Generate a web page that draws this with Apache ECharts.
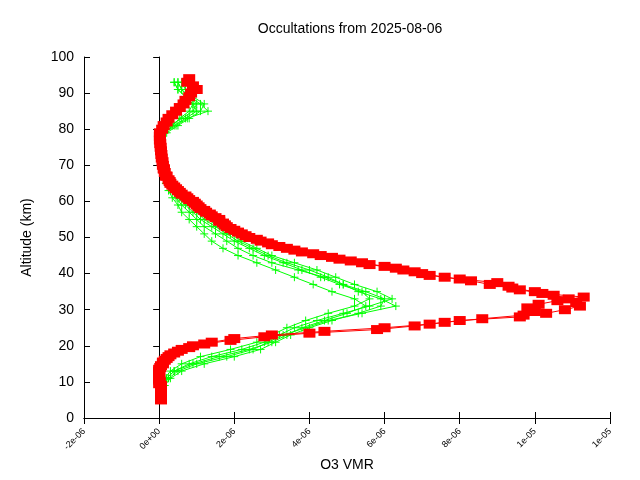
<!DOCTYPE html>
<html><head><meta charset="utf-8">
<script src="https://cdn.jsdelivr.net/npm/echarts@6/dist/echarts.min.js"></script>
<style>html,body{margin:0;background:#fff}#c{width:640px;height:480px}</style></head>
<body><div id="c"></div>
<script>
// values in units of 1e-6 VMR, altitude in km
const redAlt = [5,6,7,8,9,10,11,12,13,14,15,16,17,18,19,20,21,22,23,24,25,26,27,28,29,30,31,32,33,34,35,36,37,38,39,40,41,42,43,44,45,46,47,48,49,50,51,52,53,54,55,56,57,58,59,60,61,62,63,64,65,66,67,68,69,70,72,74,76,78,80,82,84,86,88,90,92,94];
const redVal = [0.05,0.05,0.05,0.05,0.05,0.02,0,0,0,0.03,0.1,0.15,0.25,0.4,0.6,0.9,1.4,2.0,3.0,4.4,6.0,7.2,8.0,9.6,10.3,10.8,11.2,11.1,10.9,10.5,10.0,9.4,8.8,8.3,7.6,7.0,6.5,6.0,5.4,4.8,4.3,3.8,3.4,3.0,2.7,2.4,2.2,2.0,1.8,1.7,1.6,1.4,1.25,1.1,1.0,0.9,0.75,0.6,0.5,0.4,0.3,0.25,0.2,0.15,0.12,0.1,0.07,0.05,0.03,0.02,0.08,0.2,0.35,0.55,0.7,0.85,0.9,0.8];
const red2Alt = [5.5,6.5,7.5,8.5,9.5,10.5,11.5,12.5,13.5,14.5,15.5,16.5,17.5,18.5,19.5,20.5,21.5,22.5,23.5,24.5,25.5,26.5,27.5,28.5,29.5,30.5,31.5,32.5,33.5,34.5,35.5,36.5,37.5,38.5,39.5,40.5,41.5,42.5,43.5,44.5,45.5,46.5,47.5,48.5,49.5,50.5,51.5,52.5,53.5,54.5,55.5,56.5,57.5,58.5,59.5,60.5,61.5,62.5,63.5,64.5,65.5,67,69,71,73,75,77,79,81,83,85,87,89,91,93];
const red2Val = [0.05,0.05,0.05,0.05,0.0,0.0,0.0,0.0,0.0,0.05,0.1,0.2,0.3,0.5,0.8,1.2,1.9,2.8,4.0,5.8,6.8,7.6,8.6,9.7,10.0,9.8,10.1,10.6,11.3,10.2,9.6,9.3,9.0,8.0,7.2,6.8,6.3,5.6,5.1,4.6,4.1,3.6,3.2,2.9,2.6,2.3,2.1,1.9,1.75,1.6,1.5,1.35,1.2,1.05,0.95,0.8,0.7,0.55,0.45,0.35,0.28,0.18,0.13,0.09,0.06,0.04,0.02,0.02,0.12,0.25,0.45,0.65,0.8,1.0,0.75];
const greenAlt = [7,9,11,13,15,17,19,21,23,25,27,29,31,33,35,37,39,41,43,45,47,49,51,53,55,57,59,61,63,65,67,69,71,73,75,77,79,81,83,85,87,89,91,93];
const green1 = [0.1,0.1,0.2,0.4,0.8,1.4,2.2,2.8,3.2,3.6,4.2,4.9,5.6,6.2,5.8,5.2,4.7,4.2,3.6,3.0,2.6,2.2,1.9,1.6,1.3,1.0,0.8,0.6,0.45,0.3,0.2,0.15,0.1,0.08,0.05,0.03,0.1,0.3,0.6,0.9,1.0,0.8,0.6,0.5];
const green2 = [0.05,0.1,0.15,0.3,0.6,1.1,1.9,2.6,3.0,3.4,3.9,4.5,5.2,5.6,5.4,4.8,4.3,3.8,3.3,2.8,2.4,2.0,1.7,1.4,1.1,0.9,0.7,0.5,0.35,0.25,0.15,0.1,0.08,0.05,0.03,0.02,0.1,0.4,0.7,1.0,0.9,0.7,0.5,0.4];
const green3 = [0.1,0.15,0.3,0.6,1.2,2.0,2.7,3.1,3.5,4.0,4.6,5.3,5.9,6.0,5.5,4.9,4.4,3.7,3.0,2.5,2.1,1.8,1.5,1.2,1.0,0.8,0.6,0.45,0.3,0.2,0.15,0.1,0.06,0.04,0.02,0.02,0.2,0.5,0.8,1.1,1.2,0.9,0.7,0.6];
const green4 = [0.1,0.1,0.2,0.4,0.9,1.6,2.4,3.0,3.4,3.8,4.4,5.0,5.5,5.2,4.6,4.1,3.6,3.1,2.6,2.1,1.7,1.4,1.2,1.0,0.8,0.6,0.5,0.35,0.25,0.18,0.12,0.08,0.05,0.03,0.02,0.01,0.15,0.35,0.55,0.8,0.9,0.7,0.5,0.4];
const green5 = [0.05,0.1,0.25,0.5,1.0,1.8,2.5,2.9,3.3,3.9,4.5,5.4,6.3,5.9,5.3,4.9,4.5,4.0,3.4,2.9,2.5,2.1,1.8,1.5,1.2,1.0,0.8,0.55,0.4,0.28,0.18,0.12,0.08,0.05,0.03,0.02,0.12,0.45,0.75,1.3,1.1,0.8,0.6,0.5];
const xTicks = ['-2e-06','0e+00','2e-06','4e-06','6e-06','8e-06','1e-05','1e-05'];

const pair = (v, a) => v.map((x, i) => [x, a[i]]);
const greens = [green1, green2, green3, green4, green5];
const series = greens.map(g => ({
  type:'line', data: pair(g, greenAlt), symbol:'path://M0,5H10M5,0V10', symbolSize:8,
  itemStyle:{color:'#00ff00',borderColor:'#00ff00',borderWidth:1}, lineStyle:{color:'#00ff00',width:1}, animation:false, z:2
}));
[[redVal, redAlt],[red2Val, red2Alt]].forEach(([v,a]) => series.push({type:'line', data: pair(v, a), symbol:'rect', symbolSize:[12,9],
  itemStyle:{color:'#ff0000'}, lineStyle:{color:'#ff0000',width:1}, animation:false, z:3}));

const lab = {fontFamily:'Liberation Sans', color:'#000'};
const tick = {inside:true, length:6, lineStyle:{color:'#000'}};
const chart = echarts.init(document.getElementById('c'));
chart.setOption({
  title:{text:'Occultations from 2025-08-06', left:345, top:17, textAlign:'center',
    textStyle:{fontFamily:'Liberation Sans',fontSize:14,fontWeight:'normal',color:'#000'}},
  grid:{left:84, right:30, top:57, bottom:62},
  xAxis:[{type:'value', min:-2, max:12, interval:2, name:'O3 VMR', nameLocation:'middle', nameGap:40,
    nameTextStyle:Object.assign({fontSize:14},lab),
    axisLine:{onZero:false, lineStyle:{color:'#000'}}, axisTick:tick, splitLine:{show:false},
    axisLabel:Object.assign({rotate:45, fontSize:9, margin:12, formatter:(v)=>xTicks[Math.round((v+2)/2)]},lab)},
    {type:'value', position:'top', min:-2, max:12, interval:2, axisLine:{show:true, lineStyle:{color:'#000'}},
     axisTick:tick, axisLabel:{show:false}, splitLine:{show:false}}],
  yAxis:[{type:'value', min:0, max:100, interval:10, name:'Altitude (km)', nameLocation:'middle', nameGap:50,
    nameTextStyle:Object.assign({fontSize:14},lab),
    axisLine:{onZero:false, lineStyle:{color:'#000'}}, axisTick:tick, splitLine:{show:false},
    axisLabel:Object.assign({fontSize:14, margin:10},lab)},
    {type:'value', position:'right', min:0, max:100, interval:10, axisLine:{show:true, lineStyle:{color:'#000'}},
     axisTick:tick, axisLabel:{show:false}, splitLine:{show:false}}],
  series: series
});
</script></body></html>
